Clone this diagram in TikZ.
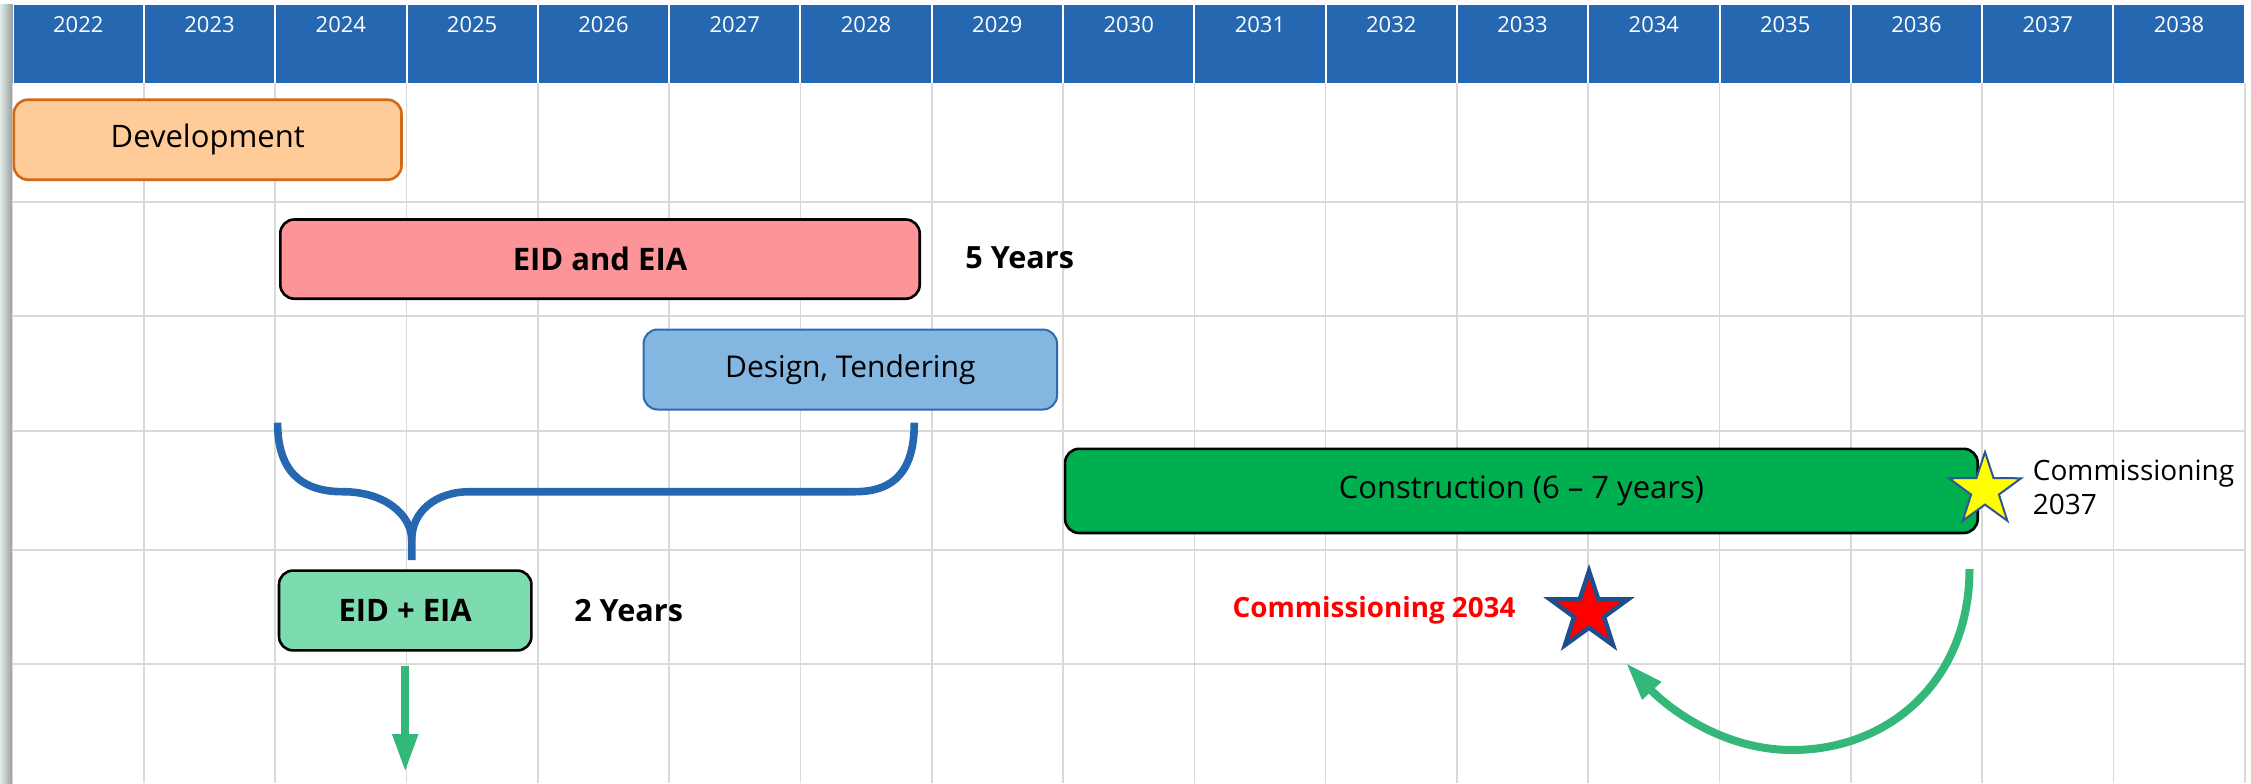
\documentclass[tikz,border=0pt]{standalone}
\usepackage{fontspec}
\setmainfont{Open Sans}
\usepackage{tikz}
\usetikzlibrary{arrows.meta,shapes.geometric}

\begin{document}
\begin{tikzpicture}[x=0.5pt,y=0.5pt,yscale=-1,xscale=1,
  hdrcell/.style={fill={rgb, 255:red, 38; green, 103; blue, 177 }},
  yrlabel/.style={color=white, inner sep=0.75pt, font=\fontsize{11}{13}\selectfont},
  gridline/.style={draw={rgb, 255:red, 217; green, 217; blue, 217 }, line width=0.8pt},
  bar/.style={rounded corners=7pt, line width=1.3pt, inner sep=0.75pt, font=\fontsize{15.5}{18}\selectfont},
  boldbar/.style={bar, font=\bfseries\fontsize{15.5}{18}\selectfont},
  lbl/.style={anchor=west, inner sep=0.75pt, font=\fontsize{14}{17}\selectfont},
  boldlbl/.style={anchor=west, inner sep=0.75pt, font=\bfseries\fontsize{15.3}{18}\selectfont},
  starnode/.style={star, star points=5, star point ratio=2.6, inner sep=0pt},
  greenarrow/.style={draw={rgb, 255:red, 51; green, 184; blue, 122 }, line width=4pt, -{Triangle[length=19pt,width=12pt]}},
  bracepath/.style={draw={rgb, 255:red, 38; green, 103; blue, 177 }, line width=3.8pt}
]
\useasboundingbox (0,0) rectangle (2251,783);

%Shape: Shadow strip
\shade [left color={rgb, 255:red, 226; green, 236; blue, 232 }, right color={rgb, 255:red, 150; green, 158; blue, 155 }] (0,4.6) rectangle (12.6,783);

%Shape: Header cells
\foreach \yr [count=\i from 0] in {2022,...,2038}{
  \fill [hdrcell] ({13.6+\i*131.3},4.6) rectangle ({11.6+(\i+1)*131.3},82.7);
  \node [yrlabel] (y\yr) at ({12.6+(\i+0.5)*131.3},25) {\yr};
}

%Shape: Grid
\foreach \i in {0,...,17}
  \draw [gridline] ({12.6+\i*131.3},82.7) -- ({12.6+\i*131.3},783);
\foreach \r in {201.7,316,430.7,550,664}
  \draw [gridline] (12.6,\r) -- (2244.7,\r);

%Shape: Rounded Rect
\node [bar, draw={rgb, 255:red, 210; green, 105; blue, 20 }, fill={rgb, 255:red, 255; green, 204; blue, 153 }, minimum width=193.8pt, minimum height=40pt] (dev) at (207.7,139.7) {Development};
%Shape: Rounded Rect
\node [boldbar, draw=black, fill={rgb, 255:red, 252; green, 148; blue, 153 }, minimum width=319.7pt, minimum height=39.6pt] (eid) at (600,259.1) {EID and EIA};
%Shape: Rounded Rect
\node [bar, draw={rgb, 255:red, 46; green, 106; blue, 179 }, line width=1pt, fill={rgb, 255:red, 131; green, 182; blue, 225 }, minimum width=206.7pt, minimum height=40pt, font=\fontsize{15}{18}\selectfont] (design) at (850.3,369.5) {Design, Tendering};
%Shape: Rounded Rect
\node [bar, draw=black, fill={rgb, 255:red, 0; green, 176; blue, 80 }, minimum width=456.3pt, minimum height=42.1pt] (cons) at (1521.4,490.9) {Construction (6 -- 7 years)};
%Shape: Rounded Rect
\node [boldbar, draw=black, fill={rgb, 255:red, 125; green, 220; blue, 175 }, minimum width=126.2pt, minimum height=39.9pt] (eidb) at (405.2,610.5) {EID + EIA};

% Text Node
\node [boldlbl] (five) at (963.5,258) {5 Years};
% Text Node
\node [boldlbl] (two) at (572.4,611) {2 Years};
% Text Node
\node [lbl, align=left] (com37) at (2031,487) {Commissioning\\2037};
% Text Node
\node [boldlbl, color=red, font=\bfseries\fontsize{13.9}{16}\selectfont] (com34) at (1230.8,610) {Commissioning 2034};

%Shape: Star
\node [starnode, minimum size=38pt, line width=1pt, draw={rgb, 255:red, 47; green, 85; blue, 151 }, fill={rgb, 255:red, 255; green, 255; blue, 0 }] (s37) at (1985,490) {};
%Shape: Star
\node [starnode, minimum size=41pt, line width=2.2pt, draw={rgb, 255:red, 31; green, 78; blue, 140 }, fill={rgb, 255:red, 255; green, 0; blue, 0 }] (s34) at (1589,612) {};

%Shape: Brace
\draw [bracepath] (277.6,422.7) .. controls (277.6,470) and (300,491.7) .. (343,491.7) .. controls (385,491.7) and (411.7,515) .. (411.7,540) -- (411.7,560);
\draw [bracepath] (411.7,540) .. controls (411.7,512) and (435,491.7) .. (470,491.7) -- (855,491.7) .. controls (895,491.7) and (914.3,470) .. (914.3,422.7);

%Straight Lines
\coordinate (dn) at (405.2,772);
\draw [greenarrow, shorten <=7pt] (eidb.south) -- (dn);

%Curve Lines
\coordinate (cstart) at (1969.5,569);
\coordinate (cbot) at (1792,750);
\coordinate (cend) at (1626,663);
\draw [greenarrow] (cstart) .. controls (1969.5,680) and (1890,750) .. (cbot) .. controls (1720,750) and (1665,705) .. (cend);

\end{tikzpicture}
\end{document}
